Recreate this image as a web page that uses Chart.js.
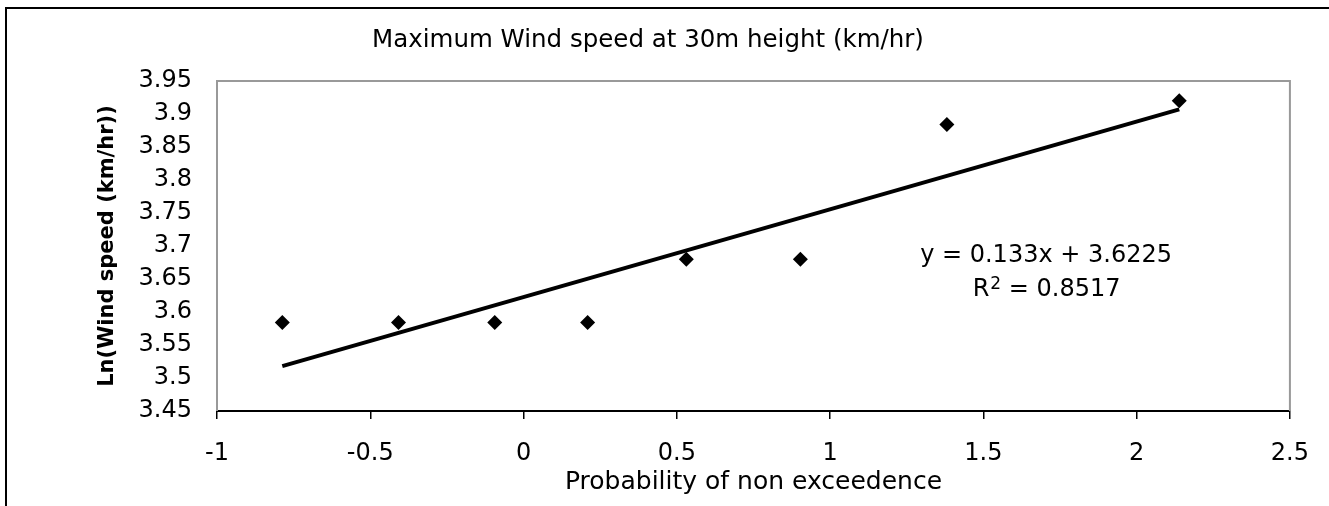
<!DOCTYPE html>
<html>
<head>
<meta charset="utf-8">
<title>Maximum Wind speed at 30m height</title>
<script src="https://cdn.jsdelivr.net/npm/chart.js@4/dist/chart.umd.min.js"></script>
<style>
  html, body { margin: 0; padding: 0; background: #fff; }
  #wrap { width: 1329px; height: 506px; position: relative; }
</style>
</head>
<body>
<div id="wrap"><canvas id="myChart"></canvas></div>
<script>
// Valores
const puntosX = [-0.787, -0.408, -0.094, 0.209, 0.531, 0.903, 1.381, 2.139];
const puntosY = [3.584, 3.584, 3.584, 3.584, 3.680, 3.680, 3.884, 3.920];

// Línea de tendencia (extremos)
const tendenciaX = [-0.787, 2.139];
const tendenciaY = [3.518, 3.907];

const ticksX = [-1, -0.5, 0, 0.5, 1, 1.5, 2, 2.5];
const ticksY = [3.45, 3.5, 3.55, 3.6, 3.65, 3.7, 3.75, 3.8, 3.85, 3.9, 3.95];

const ecuacion = 'y = 0.133x + 3.6225';
const r2Valor = ' = 0.8517';

const fuente = 'DejaVu Sans';

// Marco exterior negro (izquierda y arriba)
const marcoExterior = {
    id: 'marcoExterior',
    beforeDraw(chart) {
        const ctx = chart.ctx;
        ctx.save();
        ctx.fillStyle = '#000';
        ctx.fillRect(5, 7, 2, chart.height);
        ctx.fillRect(5, 7, chart.width, 2);
        ctx.restore();
    }
};

// Borde gris del área del gráfico
const bordeArea = {
    id: 'bordeArea',
    beforeDatasetsDraw(chart) {
        const a = chart.chartArea;
        const ctx = chart.ctx;
        ctx.save();
        ctx.strokeStyle = '#999';
        ctx.lineWidth = 2;
        ctx.beginPath();
        ctx.moveTo(a.left, a.bottom);
        ctx.lineTo(a.left, a.top);
        ctx.lineTo(a.right, a.top);
        ctx.lineTo(a.right, a.bottom);
        ctx.stroke();
        ctx.restore();
    }
};

// Texto de la ecuación de la tendencia
const textoEcuacion = {
    id: 'textoEcuacion',
    afterDatasetsDraw(chart) {
        const ctx = chart.ctx;
        const x = chart.scales.x.getPixelForValue(1.7045);
        const y1 = chart.scales.y.getPixelForValue(3.6856);
        const y2 = chart.scales.y.getPixelForValue(3.6330);
        ctx.save();
        ctx.fillStyle = '#000';
        ctx.textBaseline = 'middle';
        ctx.font = '24px "' + fuente + '"';
        ctx.textAlign = 'center';
        ctx.fillText(ecuacion, x, y1);

        // R² con superíndice
        const fGrande = '24px "' + fuente + '"';
        const fPeque = '17px "' + fuente + '"';
        ctx.font = fGrande;
        const wR = ctx.measureText('R').width;
        const wV = ctx.measureText(r2Valor).width;
        ctx.font = fPeque;
        const w2 = ctx.measureText('2').width;
        let xi = x - (wR + w2 + wV) / 2;
        ctx.textAlign = 'left';
        ctx.font = fGrande;
        ctx.fillText('R', xi, y2);
        ctx.font = fPeque;
        ctx.fillText('2', xi + wR + 1, y2 - 6);
        ctx.font = fGrande;
        ctx.fillText(r2Valor, xi + wR + w2 + 1, y2);
        ctx.restore();
    }
};

const ctx = document.getElementById('myChart').getContext('2d');
const myChart = new Chart(ctx, {
    type: 'scatter',
    data: {
        datasets: [
            {
                label: 'Ln(Wind speed)',
                data: puntosX.map((x, i) => ({ x: x, y: puntosY[i] })),
                pointStyle: 'rectRot',
                pointRadius: 7.5,
                pointBackgroundColor: '#000',
                pointBorderColor: '#000',
                pointBorderWidth: 0,
                showLine: false
            },
            {
                label: 'Tendencia',
                type: 'line',
                data: tendenciaX.map((x, i) => ({ x: x, y: tendenciaY[i] })),
                borderColor: '#000',
                borderWidth: 4,
                pointRadius: 0,
                fill: false,
                tension: 0
            }
        ]
    },
    options: {
        responsive: true,
        maintainAspectRatio: false,
        animation: false,
        layout: { padding: { left: 0, right: 33, top: 0, bottom: 0 } },
        plugins: {
            legend: { display: false },
            tooltip: { enabled: false },
            title: {
                display: true,
                text: 'Maximum Wind speed at 30m height (km/hr)',
                color: '#000',
                font: { family: fuente, size: 24.5, weight: 'normal' },
                padding: { top: 26, bottom: 25.6 }
            }
        },
        scales: {
            x: {
                type: 'linear',
                min: -1,
                max: 2.5,
                afterBuildTicks: s => { s.ticks = ticksX.map(v => ({ value: v })); },
                afterFit: s => { s.height = 95; },
                grid: {
                    drawOnChartArea: false,
                    drawTicks: true,
                    tickLength: 8,
                    color: '#000',
                    lineWidth: 1.5
                },
                border: { display: true, color: '#000', width: 2 },
                ticks: {
                    color: '#000',
                    padding: 20,
                    maxRotation: 0,
                    font: { family: fuente, size: 24 },
                    callback: v => String(v)
                },
                title: {
                    display: true,
                    text: 'Probability of non exceedence',
                    color: '#000',
                    font: { family: fuente, size: 25 },
                    padding: { top: 0, bottom: 8.4 }
                }
            },
            y: {
                type: 'linear',
                min: 3.45,
                max: 3.95,
                afterBuildTicks: s => { s.ticks = ticksY.map(v => ({ value: v })); },
                afterFit: s => { s.width = 217; },
                grid: { display: false, drawTicks: false },
                border: { display: false },
                ticks: {
                    color: '#000',
                    padding: 25,
                    font: { family: fuente, size: 24 },
                    callback: v => String(v)
                },
                title: {
                    display: true,
                    text: 'Ln(Wind speed (km/hr))',
                    color: '#000',
                    font: { family: fuente, size: 21, weight: 'bold' },
                    padding: { top: 94.8, bottom: 0 }
                }
            }
        }
    },
    plugins: [marcoExterior, bordeArea, textoEcuacion]
});
</script>
</body>
</html>
